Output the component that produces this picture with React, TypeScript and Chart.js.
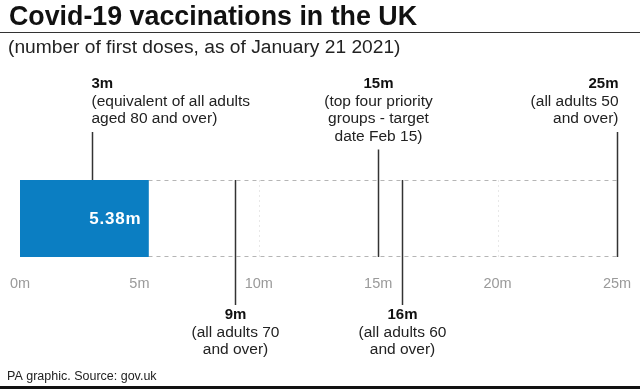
import React, { useEffect, useRef } from 'react';
import { Chart, registerables } from 'chart.js';

Chart.register(...registerables);

// ---- data ----
const categories = ['First doses'];
const firstDoses = [5.38];
const barLabels = ['5.38m'];
const axisTicks = [0, 5, 10, 15, 20, 25];
const axisMin = 0;
const axisMax = 25;

const milestoneValues = [3, 9, 15, 16, 25];
const milestoneHeads = ['3m', '9m', '15m', '16m', '25m'];
const milestoneNotes = [
  ['(equivalent of all adults', 'aged 80 and over)'],
  ['(all adults 70', 'and over)'],
  ['(top four priority', 'groups - target', 'date Feb 15)'],
  ['(all adults 60', 'and over)'],
  ['(all adults 50', 'and over)'],
];
const milestoneSides = ['above', 'below', 'above', 'below', 'above'];
const milestoneAligns = ['left', 'center', 'center', 'center', 'right'];

const TITLE = 'Covid-19 vaccinations in the UK';
const SUBTITLE = '(number of first doses, as of January 21 2021)';
const SOURCE = 'PA graphic. Source: gov.uk';

// ---- style ----
const FONT = '"Liberation Sans", Arial, Helvetica, sans-serif';
const W = 640;
const H = 389;
const BLUE = '#0b7ec2';

const decorPlugin = {
  id: 'decor',
  beforeDraw(chart: any) {
    const ctx = chart.ctx;
    ctx.save();
    ctx.fillStyle = '#ffffff';
    ctx.fillRect(0, 0, W, H);

    ctx.fillStyle = '#111111';
    ctx.textAlign = 'left';
    ctx.textBaseline = 'alphabetic';
    ctx.font = `bold 26.8px ${FONT}`;
    ctx.fillText(TITLE, 9, 25);

    ctx.strokeStyle = '#333333';
    ctx.lineWidth = 1;
    ctx.beginPath();
    ctx.moveTo(0, 32.5);
    ctx.lineTo(W, 32.5);
    ctx.stroke();

    ctx.fillStyle = '#222222';
    ctx.font = `19.2px ${FONT}`;
    ctx.fillText(SUBTITLE, 8, 53);

    ctx.font = `12.5px ${FONT}`;
    ctx.textBaseline = 'middle';
    ctx.fillText(SOURCE, 7, 377);

    ctx.fillStyle = '#111111';
    ctx.fillRect(0, 386, W, 3);
    ctx.restore();
  },
  beforeDatasetsDraw(chart: any) {
    const ctx = chart.ctx;
    const x = chart.scales.x;
    const area = chart.chartArea;
    ctx.save();
    // faint dotted vertical grid
    ctx.strokeStyle = '#e8e8e8';
    ctx.lineWidth = 1;
    ctx.setLineDash([2, 3]);
    axisTicks.forEach((v) => {
      if (v === axisMin) return;
      const px = Math.round(x.getPixelForValue(v)) + 0.5;
      ctx.beginPath();
      ctx.moveTo(px, area.top);
      ctx.lineTo(px, area.bottom);
      ctx.stroke();
    });
    // dashed outline of the remaining track
    ctx.strokeStyle = '#b5b5b5';
    ctx.setLineDash([4, 4]);
    const x0 = x.getPixelForValue(firstDoses[0]);
    const x1 = x.getPixelForValue(axisMax);
    [area.top + 0.5, area.bottom - 0.5].forEach((yy) => {
      ctx.beginPath();
      ctx.moveTo(x0, yy);
      ctx.lineTo(x1, yy);
      ctx.stroke();
    });
    ctx.restore();
  },
  afterDatasetsDraw(chart: any) {
    const ctx = chart.ctx;
    const x = chart.scales.x;
    const area = chart.chartArea;
    const meta = chart.getDatasetMeta(0);
    ctx.save();
    // bar value label
    const bar = meta.data[0];
    ctx.fillStyle = '#ffffff';
    ctx.font = `bold 17px ${FONT}`;
    ctx.textAlign = 'right';
    ctx.textBaseline = 'middle';
    (ctx as any).letterSpacing = '0.8px';
    ctx.fillText(barLabels[0], bar.x - 7, bar.y + 1);
    (ctx as any).letterSpacing = '0px';

    const lineH = 17.5;
    milestoneValues.forEach((v, i) => {
      const px = Math.round(x.getPixelForValue(v)) + 0.5;
      const notes = milestoneNotes[i];
      const align = milestoneAligns[i] as CanvasTextAlign;
      let tx = px;
      if (align === 'left') tx = px - 1;
      if (align === 'right') tx = px + 1;
      ctx.strokeStyle = '#333333';
      ctx.lineWidth = 1.5;
      ctx.setLineDash([]);
      if (milestoneSides[i] === 'above') {
        const headY = 84;
        const lastY = headY + lineH * notes.length;
        const endY = v < firstDoses[0] ? area.top : area.bottom;
        ctx.beginPath();
        ctx.moveTo(px, lastY + 13);
        ctx.lineTo(px, endY);
        ctx.stroke();
        drawBlock(ctx, milestoneHeads[i], notes, tx, headY, align, lineH);
      } else {
        const headY = 315;
        ctx.beginPath();
        ctx.moveTo(px, area.top);
        ctx.lineTo(px, headY - 10);
        ctx.stroke();
        drawBlock(ctx, milestoneHeads[i], notes, tx, headY, align, lineH);
      }
    });
    ctx.restore();
  },
};

function drawBlock(
  ctx: CanvasRenderingContext2D,
  head: string,
  notes: string[],
  x: number,
  y: number,
  align: CanvasTextAlign,
  lineH: number
) {
  ctx.textAlign = align;
  ctx.textBaseline = 'middle';
  ctx.fillStyle = '#111111';
  ctx.font = `bold 15px ${FONT}`;
  ctx.fillText(head, x, y);
  ctx.fillStyle = '#222222';
  ctx.font = `15.5px ${FONT}`;
  notes.forEach((t, k) => ctx.fillText(t, x, y + lineH * (k + 1)));
}

export default function App() {
  const ref = useRef<HTMLCanvasElement | null>(null);

  useEffect(() => {
    if (!ref.current) return;
    const chart = new Chart(ref.current, {
      type: 'bar',
      data: {
        labels: categories,
        datasets: [
          {
            data: firstDoses,
            backgroundColor: BLUE,
            borderWidth: 0,
            barPercentage: 1,
            categoryPercentage: 1,
          },
        ],
      },
      options: {
        indexAxis: 'y',
        responsive: false,
        animation: false,
        devicePixelRatio: 1,
        layout: { padding: { left: 20, right: 23, top: 180, bottom: 92 } },
        plugins: {
          legend: { display: false },
          tooltip: { enabled: false },
          title: { display: false },
        },
        scales: {
          x: {
            type: 'linear',
            min: axisMin,
            max: axisMax,
            afterBuildTicks: (s: any) => {
              s.ticks = axisTicks.map((v) => ({ value: v }));
            },
            afterFit: (s: any) => {
              s.height = 40;
              s.paddingLeft = 0;
              s.paddingRight = 0;
            },
            ticks: {
              callback: (v: any) => `${v}m`,
              color: '#9a9a9a',
              font: { family: FONT, size: 14.5 },
              padding: 18,
              maxRotation: 0,
              autoSkip: false,
            },
            grid: { display: false, drawTicks: false },
            border: { display: false },
          },
          y: { display: false },
        },
      },
      plugins: [decorPlugin],
    } as any);
    return () => chart.destroy();
  }, []);

  return (
    <div style={{ position: 'absolute', left: 0, top: 0, width: W, height: H, background: '#fff' }}>
      <canvas ref={ref} width={W} height={H} style={{ display: 'block', width: W, height: H }} />
    </div>
  );
}
